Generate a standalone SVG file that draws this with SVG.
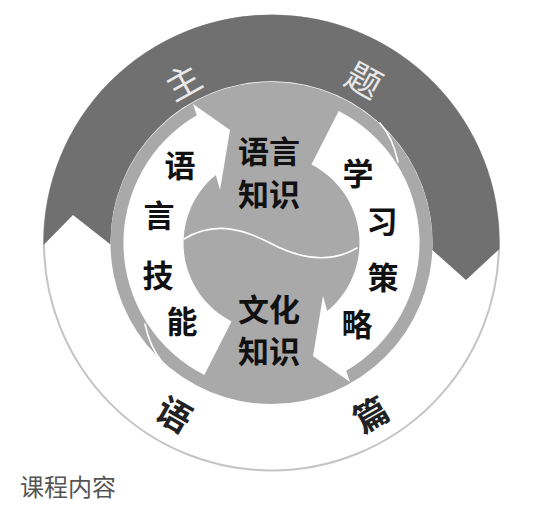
<svg xmlns="http://www.w3.org/2000/svg" width="547" height="510" viewBox="0 0 547 510">
<style>
.band{fill:#707070}
.ring{fill:#a9a9a9}
.arrow{fill:#ffffff}
.thin{fill:none;stroke:#ffffff;stroke-width:1.6;stroke-linecap:round}
.inner{font-family:"Noto Sans CJK SC","Noto Sans CJK JP",sans-serif;font-size:31px;font-weight:700;fill:#111111;text-anchor:middle;dominant-baseline:central}
.outer{font-family:"Noto Sans CJK SC","Noto Sans CJK JP",sans-serif;font-size:34px;font-weight:700;fill:#222222;text-anchor:middle;dominant-baseline:central}
.theme{font-family:"Noto Sans CJK SC","Noto Sans CJK JP",sans-serif;font-size:35px;font-weight:400;fill:#e8e8e8;text-anchor:middle;dominant-baseline:central}
.cap{font-family:"Noto Sans CJK SC","Noto Sans CJK JP",sans-serif;font-size:24px;font-weight:400;fill:#555555}
</style>
<rect width="547" height="510" fill="#ffffff"/>
<g id="discourse">
<circle cx="271.5" cy="243" r="227.5" fill="#ffffff" stroke="#c4c4c4" stroke-width="2"/>
<text class="outer" transform="translate(175 413) rotate(30)">语</text>
<text class="outer" transform="translate(370 413) rotate(-30)">篇</text>
</g>
<g id="theme">
<path class="band" d="M43.5,245 A228,228 0 1 1 499.4,249 L466,280 L432.3,250 A161,161 0 1 0 110.5,244.4 L73,215 Z"/>
<text class="theme" transform="translate(182 80) rotate(-29)">主</text>
<text class="theme" transform="translate(365 78) rotate(29)">题</text>
</g>
<g id="core">
<circle class="ring" cx="271.5" cy="243" r="161"/>
<path class="thin" d="M184,239 C212,222 240,227 270,243 C300,259 330,264 357,248"/>
</g>
<g id="connectors">
<path id="arrow-skills" class="arrow" d="M204.3,374.9 A148,148 0 0 1 196.8,115.2 L193,104 L230,130 L220,190 L215.8,174.9 A88,88 0 0 0 231.55,321.4 Z"/>
<path id="arrow-strategy" class="arrow" transform="rotate(180 271.5 243)" d="M204.3,374.9 A148,148 0 0 1 196.8,115.2 L193,104 L230,130 L220,190 L215.8,174.9 A88,88 0 0 0 231.55,321.4 Z"/>
<path class="thin" d="M380,123 Q393,138 398,162"/>
<path class="thin" transform="rotate(180 271.5 243)" d="M380,123 Q393,138 398,162"/>
</g>
<g id="language-knowledge">
<text class="inner"><tspan x="269" y="149">语言</tspan><tspan x="269" y="192">知识</tspan></text>
</g>
<g id="culture-knowledge">
<text class="inner"><tspan x="269" y="307">文化</tspan><tspan x="269" y="349">知识</tspan></text>
</g>
<g id="language-skills">
<text class="inner" x="180" y="163">语</text>
<text class="inner" x="159" y="213">言</text>
<text class="inner" x="158" y="273">技</text>
<text class="inner" x="182" y="319">能</text>
</g>
<g id="learning-strategy">
<text class="inner" x="358" y="171">学</text>
<text class="inner" x="382" y="219">习</text>
<text class="inner" x="383" y="275">策</text>
<text class="inner" x="357" y="322">略</text>
</g>
<text class="cap" x="20" y="496">课程内容</text>
</svg>
